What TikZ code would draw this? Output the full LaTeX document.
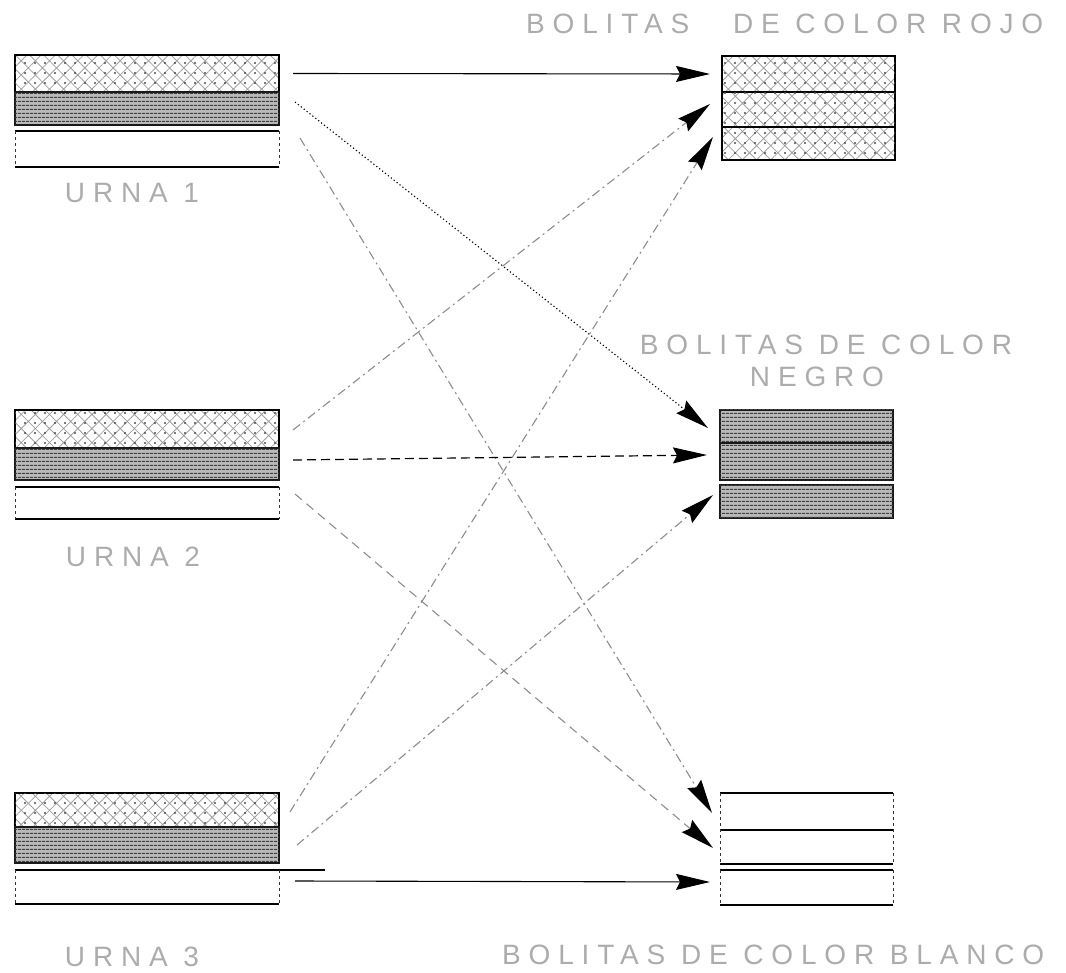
\documentclass[tikz,border=0pt]{standalone}
\usepackage{fontspec}
\newfontfamily\plotfont[LetterSpace=28]{Liberation Sans}
\usetikzlibrary{patterns.meta,arrows.meta}
\begin{document}
\begin{tikzpicture}[x=1pt,y=-1pt,
  ubox/.style={rectangle, inner sep=0pt, outer sep=0pt, minimum width=264pt},
  rbox/.style={rectangle, inner sep=0pt, outer sep=0pt, minimum width=173pt},
  crossfill/.style={draw=black, line width=1.2pt,
    pattern={Hatch[angle=45,distance=10pt,line width=0.8pt]}, pattern color=gray!75,
    postaction={pattern={Dots[distance=10pt,radius=1.1pt,xshift=5pt]}, pattern color=black!70}},
  densefill/.style={draw=black!90, line width=1.3pt, fill=gray!55,
    postaction={pattern={Lines[angle=0,distance=4pt,line width=1.4pt]}, pattern color=black!75}},
  whitefill/.style={fill=white},
  edge/.style={black, line width=1.2pt},
  side/.style={black!80, line width=0.9pt, dash pattern=on 3pt off 3pt},
  lbl/.style={font=\plotfont\fontsize{28}{31}\selectfont, text=gray!65, inner sep=0pt},
  tip/.style={-{Stealth[length=34pt,width=16pt,inset=4pt,black]}},
  solidarr/.style={tip, black, line width=1.1pt},
  dotarr/.style={tip, black, line width=1.1pt, dash pattern=on 1.2pt off 2.5pt},
  dasharr/.style={tip, black, line width=1.2pt, dash pattern=on 9pt off 5pt},
  dasharrg/.style={tip, black!45, line width=1.1pt, dash pattern=on 9pt off 6pt},
  dotdash/.style={tip, black!45, line width=1.1pt, dash pattern=on 9pt off 4pt on 2pt off 4pt},
]
\useasboundingbox (0,0) rectangle (1066,973);

% ---------- URNA 1 ----------
\node[ubox, crossfill, minimum height=37pt] (u1a) at (147,73.5) {};
\node[ubox, densefill, minimum height=33pt] (u1b) at (147,108.5) {};
\node[ubox, whitefill, minimum height=36pt] (u1c) at (147,149) {};
\draw[edge] (u1c.north west) -- (u1c.north east);
\draw[edge] (u1c.south west) -- (u1c.south east);
\draw[side] (u1c.north west) -- (u1c.south west);
\draw[side] (u1c.north east) -- (u1c.south east);
\node[lbl] (t1) at (132,193) {URNA 1};

% ---------- URNA 2 ----------
\node[ubox, crossfill, minimum height=38pt] (u2a) at (147,429) {};
\node[ubox, densefill, minimum height=32pt] (u2b) at (147,464) {};
\node[ubox, whitefill, minimum height=32pt] (u2c) at (147,503) {};
\draw[edge] (u2c.north west) -- (u2c.north east);
\draw[edge] (u2c.south west) -- (u2c.south east);
\draw[side] (u2c.north west) -- (u2c.south west);
\draw[side] (u2c.north east) -- (u2c.south east);
\node[lbl] (t2) at (133,557) {URNA 2};

% ---------- URNA 3 ----------
\node[ubox, crossfill, minimum height=34pt] (u3a) at (147,810) {};
\node[ubox, densefill, minimum height=36pt] (u3b) at (147,845) {};
\node[ubox, whitefill, minimum height=34pt] (u3c) at (147,887) {};
\coordinate (u3ext) at (325,870);
\draw[edge] (u3c.north west) -- (u3ext);
\draw[edge] (u3c.south west) -- (u3c.south east);
\draw[side] (u3c.north west) -- (u3c.south west);
\draw[side] (u3c.north east) -- (u3c.south east);
\node[lbl] (t3) at (132,957) {URNA 3};

% ---------- ROJO ----------
\node[rbox, crossfill, minimum height=36pt] (r1) at (808.5,74) {};
\node[rbox, crossfill, minimum height=35pt] (r2) at (808.5,109.5) {};
\node[rbox, crossfill, minimum height=33pt] (r3) at (808.5,143.5) {};
\node[lbl, anchor=west] (tr) at (526,24) {BOLITAS\hspace{28pt} DE COLOR ROJO};

% ---------- NEGRO ----------
\node[rbox, densefill, minimum height=33pt] (n1) at (806.5,426.5) {};
\node[rbox, densefill, minimum height=37pt] (n2) at (806.5,461.5) {};
\node[rbox, densefill, minimum height=33pt] (n3) at (806.5,501.5) {};
\node[lbl] (tn1) at (826,345) {BOLITAS DE COLOR};
\node[lbl] (tn2) at (817,377) {NEGRO};

% ---------- BLANCO ----------
\node[rbox, whitefill, minimum height=37pt] (b1) at (806.5,811.5) {};
\node[rbox, whitefill, minimum height=34pt] (b2) at (806.5,847) {};
\node[rbox, whitefill, minimum height=35pt] (b3) at (806.5,887.5) {};
\draw[edge] (b1.north west) -- (b1.north east);
\draw[edge] (b1.south west) -- (b1.south east);
\draw[edge] (b2.south west) -- (b2.south east);
\draw[side] (b1.north west) -- (b2.south west);
\draw[side] (b1.north east) -- (b2.south east);
\draw[edge] (b3.north west) -- (b3.north east);
\draw[edge] (b3.south west) -- (b3.south east);
\draw[side] (b3.north west) -- (b3.south west);
\draw[side] (b3.north east) -- (b3.south east);
\node[lbl, anchor=west] (tb) at (502,955) {BOLITAS DE COLOR BLANCO};

% ---------- connectors ----------
\draw[solidarr] ([xshift=14pt]u1a.east) -- ([xshift=-12pt]r1.west);
\draw[dotarr]   ([shift={(16pt,6.5pt)}]u1b.east) -- ([shift={(-12pt,-1.5pt)}]n1.west);
\draw[dotdash]  ([shift={(21pt,11pt)}]u1c.east) -- ([shift={(-8pt,-1.5pt)}]b1.west);

\draw[dotdash]  ([shift={(14pt,-1pt)}]u2a.east) -- ([shift={(-12pt,5.5pt)}]r2.west);
\draw[dasharr]  ([shift={(14pt,4pt)}]u2b.east) -- ([shift={(-13pt,6.5pt)}]n2.west);
\draw[dasharrg] ([shift={(16pt,9pt)}]u2c.east) -- ([shift={(-7pt,-1pt)}]b2.west);

\draw[dotdash]  ([shift={(11pt,-2pt)}]u3a.east) -- ([shift={(-9pt,6.5pt)}]r3.west);
\draw[dotdash]  ([shift={(18pt,0pt)}]u3b.east) -- ([shift={(-7pt,6.5pt)}]n3.west);
\draw[solidarr] ([shift={(16pt,6pt)}]u3c.east) -- ([shift={(-10pt,5.5pt)}]b3.west);
\end{tikzpicture}
\end{document}
